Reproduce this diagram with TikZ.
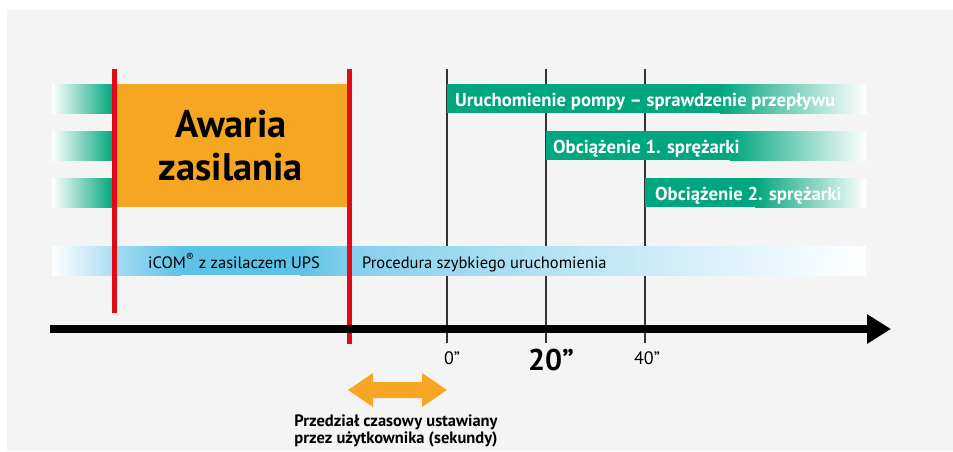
\documentclass[tikz,border=0pt]{standalone}
\usepackage{fontspec}
\setmainfont{PT Sans}
\usetikzlibrary{arrows.meta}
\definecolor{bgc}{HTML}{F4F4F4}
\definecolor{grn}{HTML}{00A67D}
\definecolor{org}{HTML}{F5A623}
\definecolor{rdl}{HTML}{E30A17}
\definecolor{bluA}{HTML}{A8DCF1}
\definecolor{bluB}{HTML}{5CC3E6}
\definecolor{bluC}{HTML}{84CFEC}
\definecolor{tickc}{HTML}{333333}
\tikzset{
  bartext/.style={anchor=base west, inner sep=0pt, text=white, font=\bfseries\fontsize{18.7}{20}\selectfont},
  bluetext/.style={anchor=base west, inner sep=0pt, text=black, font=\fontsize{16.5}{18}\selectfont},
  tickline/.style={draw=tickc, line width=1.3pt},
  redline/.style={draw=rdl, line width=5pt},
  axisline/.style={line width=8pt, -{Triangle[length=24pt, width=28pt]}},
  ticklabel/.style={anchor=base, inner sep=0pt, font=\fontsize{18}{20}\selectfont},
}
\begin{document}
\begin{tikzpicture}[x=1pt,y=-1pt]
\useasboundingbox (0,0) rectangle (953,451);
\fill[bgc] (7,10) rectangle (953,451);

% tick lines (behind bars)
\coordinate (t0a) at (447,69); \coordinate (t0b) at (447,343);
\coordinate (t1a) at (546,69); \coordinate (t1b) at (546,343);
\coordinate (t2a) at (645,69); \coordinate (t2b) at (645,343);
\draw[tickline] (t0a) -- (t0b);
\draw[tickline] (t1a) -- (t1b);
\draw[tickline] (t2a) -- (t2b);

% left green stubs
\foreach \yy in {84,131,178}{
  \shade[left color=white, right color=grn] (52,\yy) rectangle (113,\yy+29);
}
% orange block
\fill[org] (113,84) rectangle (348,207);
\node[anchor=base, inner sep=0pt, font=\bfseries\fontsize{38.5}{43}\selectfont] (aw1) at (231,137) {Awaria};
\node[anchor=base, inner sep=0pt, font=\bfseries\fontsize{38.5}{43}\selectfont] (aw2) at (231,180) {zasilania};

% green bars
\fill[grn] (447,84) rectangle (722,113);
\shade[left color=grn, right color=white] (720,84) rectangle (866,113);
\fill[grn] (546,131) rectangle (732,160);
\shade[left color=grn, right color=white] (730,131) rectangle (866,160);
\fill[grn] (645,178) rectangle (757,207);
\shade[left color=grn, right color=white] (755,178) rectangle (866,207);
\node[bartext] (b1) at (455,106) {Uruchomienie pompy – sprawdzenie przepływu};
\node[bartext] (b2) at (553,153) {Obciążenie 1. sprężarki};
\node[bartext] (b3) at (655,200) {Obciążenie 2. sprężarki};

% blue bar
\shade[left color=white, right color=bluA] (52,246) rectangle (114,275);
\shade[left color=bluA, right color=bluB] (113,246) rectangle (181,275);
\fill[bluB] (180,246) rectangle (301,275);
\shade[left color=bluB, right color=bluC] (300,246) rectangle (349,275);
\shade[left color=bluC, right color=white] (348,246) rectangle (866,275);
\node[bluetext] (u1) at (148,268) {iCOM\textsuperscript{®} z zasilaczem UPS};
\node[bluetext] (u2) at (362,268) {Procedura szybkiego uruchomienia};

% red lines
\coordinate (r1a) at (114,69); \coordinate (r1b) at (114,313);
\coordinate (r2a) at (349,69); \coordinate (r2b) at (349,344);
\draw[redline] (r1a) -- (r1b);
\draw[redline] (r2a) -- (r2b);

% axis
\coordinate (axL) at (50,329);
\coordinate (axR) at (891,329);
\draw[axisline] (axL) -- (axR);

% tick labels
\node[ticklabel] (l0) at (452,364) {0”};
\node[ticklabel, font=\bfseries\fontsize{30}{32}\selectfont] (l20) at (551,370) {20”};
\node[ticklabel] (l40) at (647,364) {40”};

% orange double arrow
\fill[org] (348,390) -- (373,373) -- (373,382) -- (422,382) -- (422,373) -- (447,390)
  -- (422,407) -- (422,398) -- (373,398) -- (373,407) -- cycle;
\node[anchor=base, inner sep=0pt, align=center, font=\bfseries\fontsize{16.5}{16.5}\selectfont] (cap) at (396,443)
  {Przedział czasowy ustawiany\\przez użytkownika (sekundy)};
\end{tikzpicture}
\end{document}
